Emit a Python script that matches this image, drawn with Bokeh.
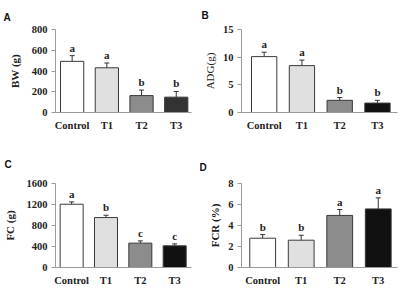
from bokeh.plotting import figure
from bokeh.models import ColumnDataSource, Whisker, TeeHead, FixedTicker
from bokeh.layouts import gridplot
from bokeh.core.properties import value
from bokeh.embed import file_html
from bokeh.resources import INLINE

categories = ["Control", "T1", "T2", "T3"]

bw = [493, 431, 163, 148]
bw_err = [55, 46, 53, 55]
bw_sig = ["a", "a", "b", "b"]

adg = [10.1, 8.47, 2.2, 1.7]
adg_err = [0.8, 1.0, 0.5, 0.5]
adg_sig = ["a", "a", "b", "b"]

fc = [1205, 951, 464, 413]
fc_err = [45, 45, 43, 37]
fc_sig = ["a", "b", "c", "c"]

fcr = [2.79, 2.6, 4.96, 5.58]
fcr_err = [0.34, 0.47, 0.56, 1.05]
fcr_sig = ["b", "b", "a", "a"]

SERIF = "Liberation Serif"
AXIS_GRAY = "#9a9a9a"


def panel(letter, vals, errs, sig, ylabel, yticks, ymax, colors, xr, borders,
          title_standoff, label_bold=True, label_standoff=8):
    left, right, top, bottom = borders
    p = figure(width=200, height=144, output_backend="svg", toolbar_location=None,
               x_range=xr, y_range=(0, ymax),
               min_border_left=left, min_border_right=right,
               min_border_top=top, min_border_bottom=bottom)
    p.outline_line_color = None
    p.grid.visible = False
    xs = list(range(len(categories)))
    src = ColumnDataSource(dict(x=xs, top=vals, upper=[v + e for v, e in zip(vals, errs)],
                                color=colors, sig=sig))
    p.vbar(x="x", top="top", width=0.67, source=src, fill_color="color",
           line_color="#3a3a3a", line_width=1)
    w = Whisker(base="x", upper="upper", lower="top", source=src,
                upper_head=TeeHead(size=5, line_color="#333333", line_width=1),
                lower_head=None, line_color="#333333", line_width=1, level="overlay")
    p.add_layout(w)
    p.text(x="x", y="upper", text="sig", source=src, text_align="center",
           text_baseline="alphabetic", y_offset=-8,
           text_font=value(SERIF), text_font_style="bold", text_font_size="11px",
           text_color="#222222")

    p.xaxis.ticker = FixedTicker(ticks=xs)
    p.xaxis.major_label_overrides = {i: c for i, c in enumerate(categories)}
    p.xaxis.major_tick_out = 0
    p.xaxis.major_tick_in = 0
    p.xaxis.minor_tick_out = 0
    p.xaxis.minor_tick_in = 0
    p.xaxis.major_label_standoff = 7
    p.xaxis.axis_line_color = AXIS_GRAY
    p.xaxis.major_label_text_font = SERIF
    p.xaxis.major_label_text_font_style = "bold"
    p.xaxis.major_label_text_font_size = "10.5px"
    p.xaxis.major_label_text_color = "#222222"

    p.yaxis.ticker = FixedTicker(ticks=yticks)
    p.yaxis.major_tick_out = 4
    p.yaxis.major_tick_in = 0
    p.yaxis.minor_tick_out = 0
    p.yaxis.minor_tick_in = 0
    p.yaxis.major_tick_line_color = AXIS_GRAY
    p.yaxis.axis_line_color = AXIS_GRAY
    p.yaxis.major_label_standoff = 4
    p.yaxis.major_label_text_font = SERIF
    p.yaxis.major_label_text_font_style = "bold"
    p.yaxis.major_label_text_font_size = "10.5px"
    p.yaxis.major_label_text_color = "#222222"
    p.yaxis.axis_label = ylabel
    p.yaxis.axis_label_text_font = SERIF
    p.yaxis.axis_label_text_font_style = "bold" if label_bold else "normal"
    p.yaxis.axis_label_text_font_size = "11px"
    p.yaxis.axis_label_text_color = "#222222"
    p.yaxis.axis_label_standoff = label_standoff

    p.title.text = letter
    p.title.align = "left"
    p.title.vertical_align = "top"
    p.title.offset = -7 - left
    p.title.standoff = title_standoff
    p.title.text_font = "Liberation Sans"
    p.title.text_font_style = "bold"
    p.title.text_font_size = "10px"
    p.title.text_color = "#111111"
    return p


pa = panel("A", bw, bw_err, bw_sig, "BW (g)", [0, 200, 400, 600, 800], 800,
           ["#ffffff", "#e0e0e0", "#8c8c8c", "#333333"], (-0.48, 3.44), (45, 7, 26, 31), 10)
pb = panel("B", adg, adg_err, adg_sig, "ADG(g)", [0, 5, 10, 15], 15,
           ["#ffffff", "#e0e0e0", "#8c8c8c", "#111111"], (-0.6, 3.53), (33, 3, 29, 32), 14,
           label_bold=False, label_standoff=4)
pc = panel("C", fc, fc_err, fc_sig, "FC (g)", [0, 400, 800, 1200, 1600], 1600,
           ["#ffffff", "#e0e0e0", "#8c8c8c", "#111111"], (-0.47, 3.49), (44, 9, 39, 20), 24)
pd = panel("D", fcr, fcr_err, fcr_sig, "FCR (%)", [0, 2, 4, 6, 8], 8,
           ["#ffffff", "#e0e0e0", "#8c8c8c", "#111111"], (-0.55, 3.5), (35, 3, 36, 19), 18,
           label_standoff=4)

grid = gridplot([[pa, pb], [pc, pd]], toolbar_location=None)
open("out.html", "w").write(file_html(grid, INLINE))
